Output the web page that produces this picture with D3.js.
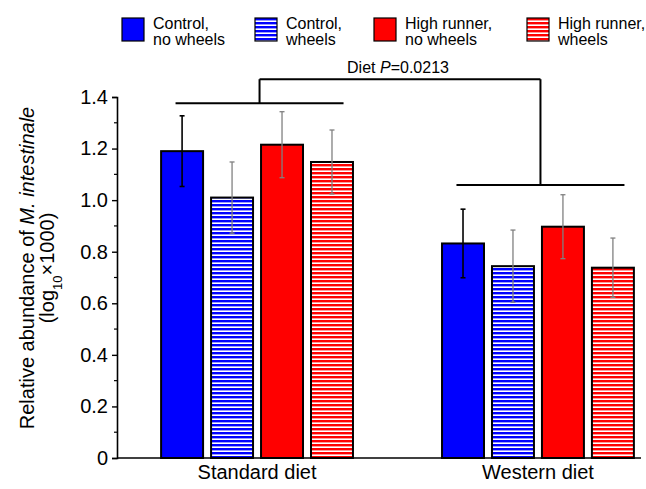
<!DOCTYPE html>
<html>
<head>
<meta charset="utf-8">
<script src="https://cdn.jsdelivr.net/npm/d3@7"></script>
<style>
  body { margin: 0; background: #fff; }
  svg { font-family: "Liberation Sans", Arial, sans-serif; }
</style>
</head>
<body>
<div id="chart"></div>
<script>
// data
const diets = ["Standard diet", "Western diet"];
const groups = ["Control, no wheels", "Control, wheels", "High runner, no wheels", "High runner, wheels"];
const legendLines = [["Control,", "no wheels"], ["Control,", "wheels"], ["High runner,", "no wheels"], ["High runner,", "wheels"]];
const meansStandard = [1.19, 1.01, 1.215, 1.148];
const meansWestern = [0.832, 0.744, 0.897, 0.738];
const errStandard = [0.137, 0.138, 0.128, 0.124];
const errWestern = [0.133, 0.140, 0.124, 0.115];
const yTicks = [0, 0.2, 0.4, 0.6, 0.8, 1.0, 1.2, 1.4];
const yMinorTicks = [0.1, 0.3, 0.5, 0.7, 0.9, 1.1, 1.3];
const bracketLevels = [1.376, 1.059];
const bracketTop = 1.469;
const pLabel = "0.0213";

const width = 646, height = 489;
const plot = {left: 117, right: 641, top: 97, bottom: 458};

const fills = ["#0000ff", "url(#hatchBlue)", "#ff0000", "url(#hatchRed)"];
const errColors = ["#000", "#808080", "#808080", "#808080"];

const svg = d3.select("#chart").append("svg")
    .attr("width", width)
    .attr("height", height);

// horizontal stripe patterns
const defs = svg.append("defs");
[["hatchBlue", "#0000ff"], ["hatchRed", "#ff0000"]].forEach(([id, c]) => {
    const p = defs.append("pattern")
        .attr("id", id)
        .attr("patternUnits", "userSpaceOnUse")
        .attr("width", 8).attr("height", 4);
    p.append("rect").attr("width", 8).attr("height", 4).attr("fill", "#fff");
    p.append("rect").attr("width", 8).attr("height", 2.4).attr("fill", c);
});

const y = d3.scaleLinear().domain([0, 1.4]).range([plot.bottom, plot.top]);
const x0 = d3.scaleBand().domain(diets).range([plot.left, 678])
    .paddingInner(0.317).paddingOuter(0.157);
const x1 = d3.scaleBand().domain(groups).range([0, x0.bandwidth()])
    .paddingInner(0.16).paddingOuter(0);

const rows = [];
diets.forEach((dt, i) => {
    const m = i === 0 ? meansStandard : meansWestern;
    const e = i === 0 ? errStandard : errWestern;
    groups.forEach((g, j) => rows.push({diet: dt, group: g, gi: j, mean: m[j], err: e[j]}));
});

// bars
svg.append("g").selectAll("rect")
    .data(rows)
    .join("rect")
    .attr("x", d => x0(d.diet) + x1(d.group))
    .attr("y", d => y(d.mean))
    .attr("width", x1.bandwidth())
    .attr("height", d => y(0) - y(d.mean))
    .attr("fill", d => fills[d.gi])
    .attr("stroke", "#000")
    .attr("stroke-width", 2);

// error bars
const eb = svg.append("g").selectAll("g")
    .data(rows)
    .join("g")
    .attr("stroke", d => errColors[d.gi])
    .attr("stroke-width", d => d.gi === 0 ? 1.6 : 1.3);
const cx = d => x0(d.diet) + x1(d.group) + x1.bandwidth() / 2;
eb.append("line")
    .attr("x1", cx).attr("x2", cx)
    .attr("y1", d => y(d.mean + d.err)).attr("y2", d => y(d.mean - d.err));
eb.append("line")
    .attr("x1", d => cx(d) - 2.5).attr("x2", d => cx(d) + 2.5)
    .attr("y1", d => y(d.mean + d.err)).attr("y2", d => y(d.mean + d.err));
eb.append("line")
    .attr("x1", d => cx(d) - 2.5).attr("x2", d => cx(d) + 2.5)
    .attr("y1", d => y(d.mean - d.err)).attr("y2", d => y(d.mean - d.err));

// y axis
const yAxis = svg.append("g")
    .attr("transform", `translate(${plot.left},0)`)
    .call(d3.axisLeft(y).tickValues(yTicks).tickSize(5).tickPadding(4)
        .tickFormat(d => d === 0 ? "0" : d3.format(".1f")(d)));
yAxis.select(".domain").attr("stroke-width", 1.6);
yAxis.selectAll(".tick line").attr("stroke-width", 1.4);
yAxis.selectAll("text").style("font-size", "20px").attr("fill", "#000")
    .style("font-family", "'Liberation Sans', Arial, sans-serif");
svg.append("g").selectAll("line")
    .data(yMinorTicks)
    .join("line")
    .attr("x1", plot.left - 3).attr("x2", plot.left)
    .attr("y1", d => y(d)).attr("y2", d => y(d))
    .attr("stroke", "#000").attr("stroke-width", 1.2);

// x axis line + category labels
svg.append("line")
    .attr("x1", plot.left).attr("x2", plot.right)
    .attr("y1", y(0)).attr("y2", y(0))
    .attr("stroke", "#000").attr("stroke-width", 1.6);
svg.append("g").selectAll("text")
    .data(diets)
    .join("text")
    .attr("x", d => x0(d) + x0.bandwidth() / 2)
    .attr("y", 479)
    .attr("text-anchor", "middle")
    .style("font-size", "20px")
    .text(d => d);

// y title
const yt = svg.append("text")
    .attr("transform", "translate(34,268) rotate(-90)")
    .attr("text-anchor", "middle")
    .style("font-size", "20px");
yt.append("tspan").text("Relative abundance of ");
yt.append("tspan").style("font-style", "italic").text("M. intestinale");
const yt2 = svg.append("text")
    .attr("transform", "translate(54,268) rotate(-90)")
    .attr("text-anchor", "middle")
    .style("font-size", "20px");
yt2.append("tspan").text("(log");
yt2.append("tspan").attr("baseline-shift", "sub").style("font-size", "13px").text("10");
yt2.append("tspan").style("font-weight", "300").text("×1000)");

// significance brackets
const half = 84;
const bx = diets.map(d => x0(d) + x0.bandwidth() / 2 + 2.5);
const br = svg.append("g").attr("stroke", "#000").attr("stroke-width", 2).attr("fill", "none");
bx.forEach((c, i) => {
    br.append("line").attr("x1", c - half).attr("x2", c + half)
        .attr("y1", y(bracketLevels[i])).attr("y2", y(bracketLevels[i]));
    br.append("line").attr("x1", c).attr("x2", c)
        .attr("y1", y(bracketLevels[i])).attr("y2", y(bracketTop));
});
br.append("line").attr("x1", bx[0]).attr("x2", bx[1])
    .attr("y1", y(bracketTop)).attr("y2", y(bracketTop));
const pt = svg.append("text")
    .attr("x", (bx[0] + bx[1]) / 2 - 2)
    .attr("y", y(bracketTop) - 6)
    .attr("text-anchor", "middle")
    .style("font-size", "16px");
pt.append("tspan").text("Diet ");
pt.append("tspan").style("font-style", "italic").text("P");
pt.append("tspan").text("=" + pLabel);

// legend
const legX = [122, 255, 374, 527];
const leg = svg.append("g").selectAll("g")
    .data(groups)
    .join("g")
    .attr("transform", (d, i) => `translate(${legX[i]},18)`);
leg.append("rect")
    .attr("width", 22).attr("height", 23)
    .attr("fill", (d, i) => fills[i])
    .attr("stroke", "#000").attr("stroke-width", 1.2);
leg.each(function (d, i) {
    const t = d3.select(this).append("text")
        .attr("x", 31).attr("y", 11)
        .style("font-size", "16px");
    legendLines[i].forEach((s, k) => t.append("tspan")
        .attr("x", 31).attr("dy", k === 0 ? 0 : 15.5).text(s));
});
</script>
</body>
</html>
